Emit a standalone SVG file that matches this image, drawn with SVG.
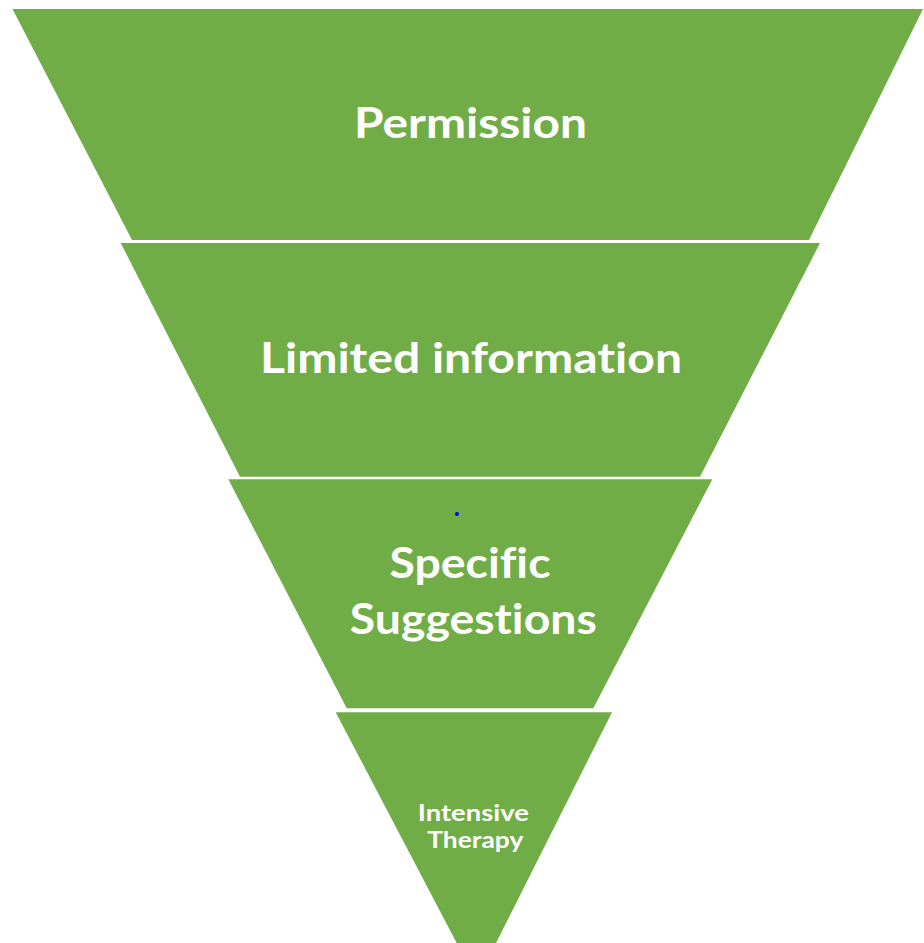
<svg xmlns="http://www.w3.org/2000/svg" width="924" height="943" viewBox="0 0 924 943">
<style>
.band{fill:#70AD47;}
.lbl{fill:#ffffff;font-family:Lato,"Open Sans","Liberation Sans",sans-serif;font-weight:bold;text-anchor:middle;font-variant-ligatures:none;font-feature-settings:"liga" 0,"clig" 0;}
.big{font-size:42px;}
.small{font-size:22px;}
</style>
<rect width="924" height="943" fill="#ffffff"/>
<g id="permission">
<polygon class="band" points="12.5,9 923,9 809,240 132,240"/>
<text class="lbl big" x="470.5" y="138.3" textLength="233" lengthAdjust="spacingAndGlyphs">Permission</text>
</g>
<g id="limited-information">
<polygon class="band" points="120.7,243 820,243 700,476.7 240,476.7"/>
<text class="lbl big" x="471" y="372.7" textLength="422" lengthAdjust="spacingAndGlyphs">Limited information</text>
</g>
<g id="specific-suggestions">
<polygon class="band" points="228.3,479.3 712.3,479.3 593.3,708.3 346.7,708.3"/>
<text class="lbl big" x="470" y="578.3" textLength="161" lengthAdjust="spacingAndGlyphs">Specific</text>
<text class="lbl big" x="473.3" y="634" textLength="247" lengthAdjust="spacingAndGlyphs">Suggestions</text>
<circle cx="457" cy="514" r="2" fill="#0000ff"/>
</g>
<g id="intensive-therapy">
<polygon class="band" points="335.7,712.3 612,712.3 496,943 456.7,943"/>
<text class="lbl small" x="473.3" y="821" textLength="111" lengthAdjust="spacingAndGlyphs">Intensive</text>
<text class="lbl small" x="475.3" y="847.5" textLength="96" lengthAdjust="spacingAndGlyphs">Therapy</text>
</g>
<g id="connectors"></g>
</svg>
